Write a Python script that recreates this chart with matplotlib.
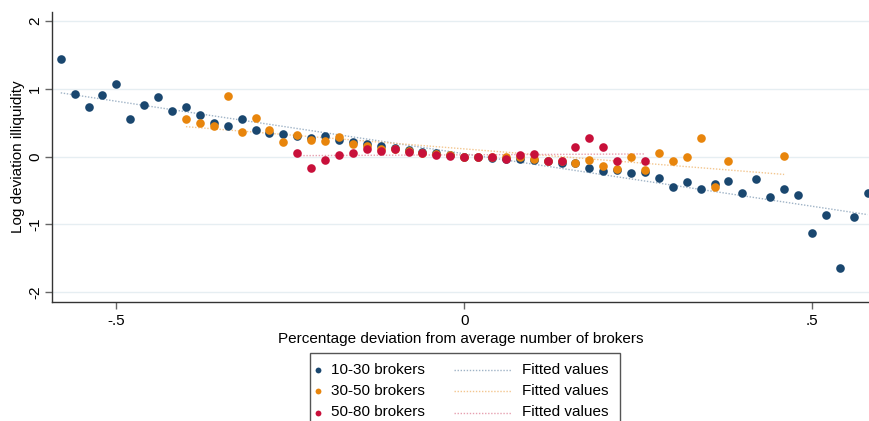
import numpy as np
import matplotlib
matplotlib.use("Agg")
import matplotlib.pyplot as plt
from matplotlib.lines import Line2D
from matplotlib.patches import Rectangle

plt.rcParams['font.family'] = ['Liberation Sans', 'DejaVu Sans']

# 10-30 brokers
x_lo = [-0.58, -0.56, -0.54, -0.52, -0.50, -0.48, -0.46, -0.44, -0.42, -0.40,
        -0.38, -0.36, -0.34, -0.32, -0.30, -0.28, -0.26, -0.24, -0.22, -0.20,
        -0.18, -0.16, -0.14, -0.12, -0.10, -0.08, -0.06, -0.04, -0.02, 0.00,
        0.02, 0.04, 0.06, 0.08, 0.10, 0.12, 0.14, 0.16, 0.18, 0.20,
        0.22, 0.24, 0.26, 0.28, 0.30, 0.32, 0.34, 0.36, 0.38, 0.40,
        0.42, 0.44, 0.46, 0.48, 0.50, 0.52, 0.54, 0.56, 0.58]
y_lo = [1.44, 0.92, 0.74, 0.91, 1.07, 0.56, 0.76, 0.88, 0.68, 0.73,
        0.62, 0.49, 0.45, 0.55, 0.39, 0.35, 0.33, 0.31, 0.28, 0.31,
        0.24, 0.22, 0.19, 0.16, 0.13, 0.10, 0.07, 0.05, 0.02, 0.00,
        -0.01, -0.02, -0.04, -0.04, -0.05, -0.06, -0.10, -0.09, -0.16, -0.21,
        -0.19, -0.24, -0.23, -0.32, -0.44, -0.37, -0.48, -0.41, -0.36, -0.54,
        -0.33, -0.59, -0.48, -0.56, -1.13, -0.86, -1.64, -0.89, -0.53]

# 30-50 brokers
x_mid = [-0.40, -0.38, -0.36, -0.34, -0.32, -0.30, -0.28, -0.26, -0.24, -0.22,
         -0.20, -0.18, -0.16, -0.14, -0.12, -0.10, -0.08, -0.06, -0.04, -0.02,
         0.00, 0.02, 0.04, 0.06, 0.08, 0.10, 0.12, 0.14, 0.16, 0.18,
         0.20, 0.22, 0.24, 0.26, 0.28, 0.30, 0.32, 0.34, 0.36, 0.38,
         0.46]
y_mid = [0.56, 0.50, 0.46, 0.89, 0.36, 0.57, 0.39, 0.22, 0.32, 0.24,
         0.23, 0.29, 0.19, 0.16, 0.12, 0.11, 0.08, 0.06, 0.04, 0.02,
         0.00, -0.01, -0.01, 0.00, -0.01, -0.04, -0.07, -0.07, -0.09, -0.05,
         -0.14, -0.18, -0.01, -0.19, 0.05, -0.07, -0.01, 0.27, -0.44, -0.07,
         0.01]

# 50-80 brokers
x_hi = [-0.24, -0.22, -0.20, -0.18, -0.16, -0.14, -0.12, -0.10, -0.08, -0.06,
        -0.04, -0.02, 0.00, 0.02, 0.04, 0.06, 0.08, 0.10, 0.12, 0.14,
        0.16, 0.18, 0.20, 0.22, 0.26]
y_hi = [0.06, -0.16, -0.05, 0.02, 0.06, 0.11, 0.08, 0.11, 0.07, 0.05,
        0.03, 0.01, -0.01, -0.01, 0.00, -0.03, 0.02, 0.04, -0.07, -0.07,
        0.14, 0.27, 0.15, -0.07, -0.06]

labels = ["10-30 brokers", "30-50 brokers", "50-80 brokers"]
colors = ["#1a476f", "#e8850c", "#c8103a"]
fit_colors = ["#9fb3c6", "#f3c68f", "#e6a0b0"]

W, H = 869, 421
fig = plt.figure(figsize=(W / 100, H / 100), dpi=100)
ax = fig.add_axes([0.0595, 0.2834, 0.9405, 0.6888])

groups = [(x_lo, y_lo), (x_mid, y_mid), (x_hi, y_hi)]
for (xs, ys), c in zip(groups, colors):
    ax.plot(xs, ys, 'o', ls='none', color=c, ms=6.2, mew=0, zorder=3)

for (xs, ys), fc in zip(groups, fit_colors):
    xs = np.array(xs)
    b, a = np.polyfit(xs, ys, 1)
    xx = np.array([xs.min(), xs.max()])
    ax.plot(xx, a + b * xx, ls=(0, (1, 1.2)), lw=1.0, color=fc, zorder=2)

ax.set_xlim(-0.593, 0.582)
ax.set_ylim(-2.14, 2.14)
ax.set_xticks([-0.5, 0, 0.5])
ax.set_xticklabels(["-.5", "0", ".5"])
ax.set_yticks([-2, -1, 0, 1, 2])
ax.set_yticklabels(["-2", "-1", "0", "1", "2"], rotation=90, va='center')
ax.grid(axis='y', color='#e6eef2', lw=1.0)
ax.set_axisbelow(True)
for s in ['top', 'right']:
    ax.spines[s].set_visible(False)
for s in ['left', 'bottom']:
    ax.spines[s].set_color('#333333')
    ax.spines[s].set_linewidth(1.0)
ax.tick_params(axis='both', direction='out', length=5, width=1, color='#666666',
               labelsize=11)
ax.tick_params(axis='x', pad=4)
ax.tick_params(axis='y', pad=2)
ax.set_xlabel("Percentage deviation from average number of brokers", fontsize=11, labelpad=3)
ax.set_ylabel("Log deviation illiquidity", fontsize=11, labelpad=2)

# legend box, drawn by hand in pixel positions (Stata style layout)
def fx(px):
    return px / W

def fy(py):
    return 1 - py / H

fig.patches.append(Rectangle((fx(309.5), fy(430)), fx(620) - fx(309.5), fy(353.3) - fy(430),
                             transform=fig.transFigure, fill=False, ec='#555555', lw=1.0))
row_y = [369.5, 391, 412.5]
for lab, c, fc, ry in zip(labels, colors, fit_colors, row_y):
    fig.lines.append(Line2D([fx(318.3)], [fy(ry)], marker='o', ls='none', color=c, ms=4.2,
                            mew=0, transform=fig.transFigure))
    fig.text(fx(330.7), fy(ry), lab, fontsize=11, va='center', ha='left')
    fig.lines.append(Line2D([fx(454), fx(512)], [fy(ry), fy(ry)], ls=(0, (1, 1.2)), lw=1.0,
                            color=fc, transform=fig.transFigure))
    fig.text(fx(522.3), fy(ry), "Fitted values", fontsize=11, va='center', ha='left')

fig.savefig("out.png", dpi=100)
